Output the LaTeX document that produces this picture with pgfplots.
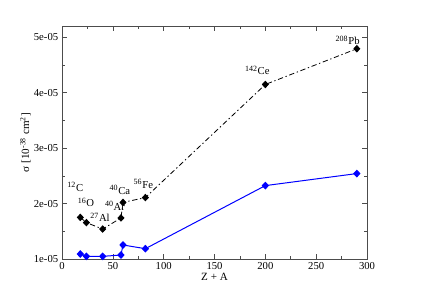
\documentclass[border=0pt]{standalone}
\usepackage{fontspec}
\setmainfont{Liberation Serif}
\usepackage{pgfplots}
\pgfplotsset{compat=1.18}
\begin{document}
\fontsize{8}{9.6}\selectfont
\begin{tikzpicture}
\begin{axis}[
  at={(0,0)}, anchor=south west,
  scale only axis,
  width=228.75pt, height=174.75pt,
  xmin=0, xmax=300, ymin=1, ymax=5.2,
  xtick={0,50,...,300},
  ytick={1,2,3,4,5},
  yticklabels={1e-05,2e-05,3e-05,4e-05,5e-05},
  minor x tick num=1, minor y tick num=1,
  tick align=inside,
  major tick length=4pt, minor tick length=2pt,
  axis line style={black!70},
  every tick/.style={black!70},
  /pgf/number format/assume math mode=true,
  tick label style={font=\fontsize{8}{9.6}\selectfont},
  label style={font=\fontsize{8.3}{10}\selectfont},
  xlabel={Z + A},
  ylabel={σ [10\textsuperscript{-38} cm\textsuperscript{2}]},
  xlabel style={yshift=3pt},
  ylabel style={yshift=-3pt},
  clip=false,
]
\addplot[black, line width=0.6pt, dash pattern=on 4pt off 2pt on 1pt off 2pt, mark=diamond*, mark size=2.4pt, mark options={solid, xscale=1.25}] coordinates {
(18,1.75) (24,1.656) (40,1.54) (58,1.74) (60,2.02) (82,2.107) (200,4.146) (290,4.79)
};
\addplot[blue, line width=0.75pt, mark=diamond*, mark size=2.4pt, mark options={solid, xscale=1.25}] coordinates {
(18,1.09) (24,1.048) (40,1.048) (58,1.072) (60,1.253) (82,1.186) (200,2.323) (290,2.54)
};
\node at (axis cs:13.1,2.305) {\textsuperscript{12}C};
\node at (axis cs:23.6,2.02) {\textsuperscript{16}O};
\node at (axis cs:37.4,1.75) {\textsuperscript{27}Al};
\node at (axis cs:52.1,1.957) {\textsuperscript{40}Ar};
\node at (axis cs:57.0,2.245) {\textsuperscript{40}Ca};
\node at (axis cs:80,2.35) {\textsuperscript{56}Fe};
\node at (axis cs:192.1,4.40) {\textsuperscript{142}Ce};
\node at (axis cs:281,4.94) {\textsuperscript{208}Pb};
\end{axis}
\pgfresetboundingbox
\path[use as bounding box] (-46.5pt,-29.25pt) rectangle (269.25pt,194.25pt);
\end{tikzpicture}
\end{document}
